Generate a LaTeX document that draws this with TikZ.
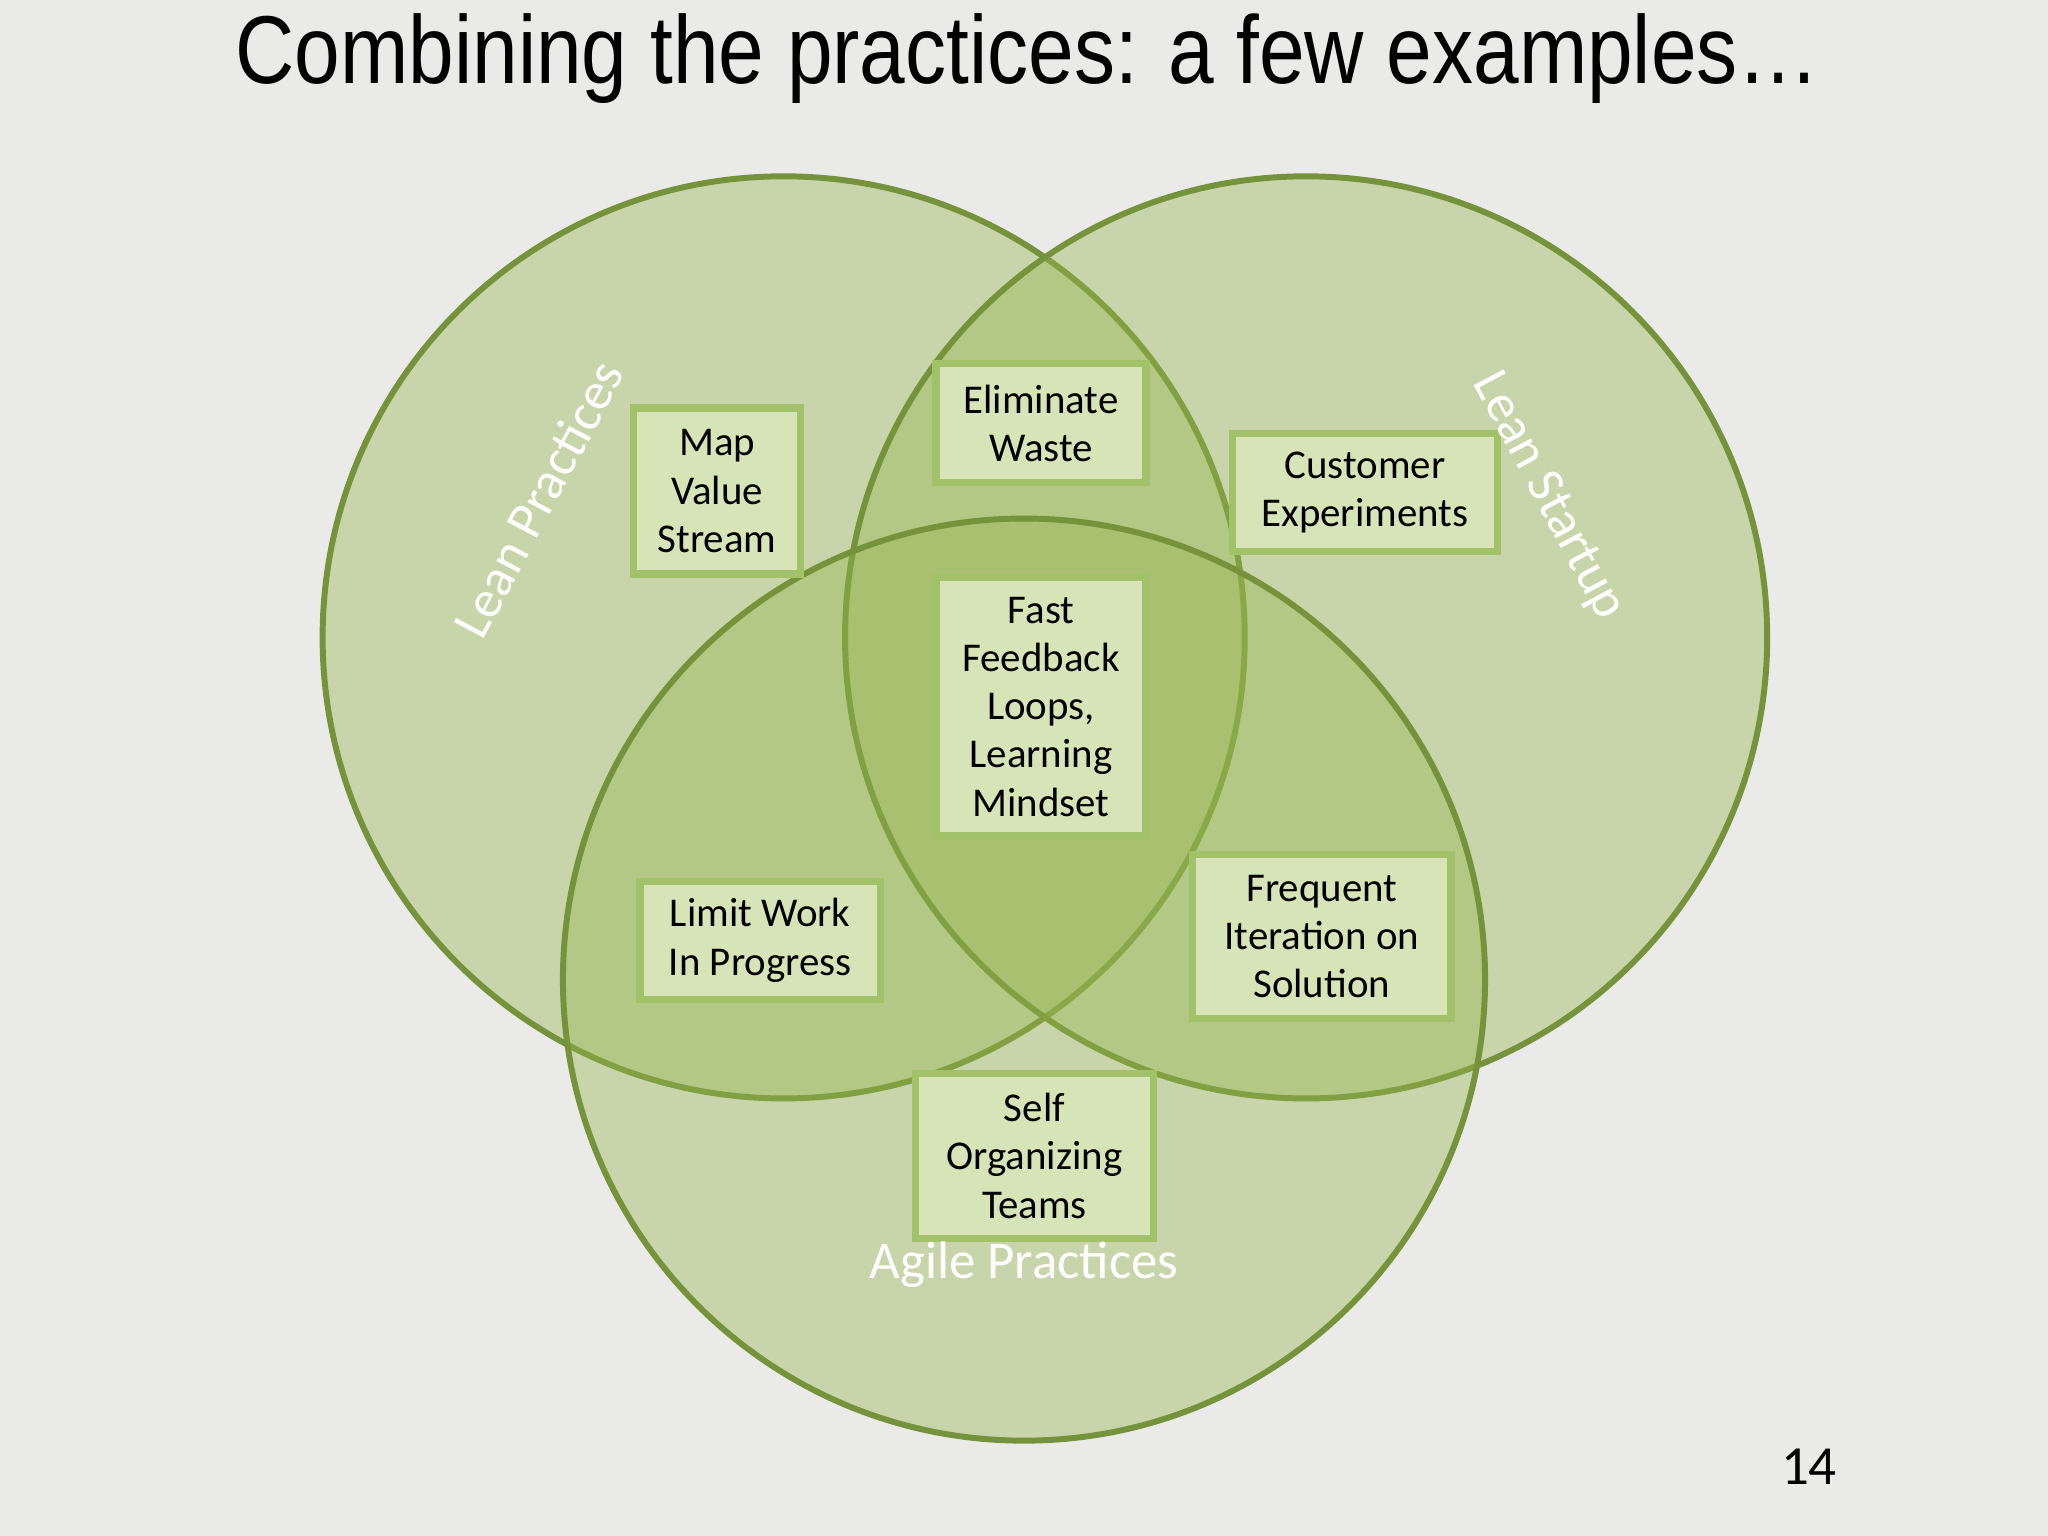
\documentclass[tikz,border=0pt]{standalone}
\usepackage{fontspec}
\setmainfont{Carlito}
\newfontfamily\titlefont{Liberation Sans}
\definecolor{bgc}{RGB}{234,234,233}
\definecolor{circfill}{RGB}{150,182,80}
\definecolor{circline}{RGB}{118,146,58}
\definecolor{boxfill}{RGB}{214,228,184}
\definecolor{boxline}{RGB}{163,193,104}
\tikzset{
  venn/.style={fill=circfill,fill opacity=0.4,draw=circline,draw opacity=1,line width=1.3pt},
  pbox/.style={draw=boxline,fill=boxfill,line width=1.6pt,align=center,inner sep=0pt,
    font=\fontsize{8.9}{10.5}\selectfont,text=black},
  setlabel/.style={text=white,font=\fontsize{11.5}{14}\selectfont}
}
\begin{document}
\begin{tikzpicture}[x=0.01cm,y=-0.01cm]
\fill[bgc] (0,0) rectangle (1568,1176);
\useasboundingbox (0,0) rectangle (1568,1176);
\node[font=\titlefont\fontsize{21}{24}\selectfont,xscale=0.85] (title) at (787,45) {Combining the practices: a few examples\ldots};
\path[venn] (600,488) circle (353);
\path[venn] (1000,488) circle (353);
\path[venn] (784,750) circle (353);
\node[pbox,minimum width=128*0.01cm,minimum height=127*0.01cm] (map) at (549,376) {Map\\Value\\Stream};
\node[pbox,minimum width=161*0.01cm,minimum height=91*0.01cm] (elim) at (797,324) {Eliminate\\Waste};
\node[pbox,minimum width=203*0.01cm,minimum height=90*0.01cm] (cust) at (1045,377) {Customer\\Experiments};
\node[pbox,minimum width=161*0.01cm,minimum height=198*0.01cm] (fast) at (797,541) {Fast\\Feedback\\Loops,\\Learning\\Mindset};
\node[pbox,minimum width=184*0.01cm,minimum height=90*0.01cm] (wip) at (582,720) {Limit Work\\In Progress};
\node[pbox,minimum width=198*0.01cm,minimum height=126*0.01cm] (freq) at (1012,717) {Frequent\\Iteration on\\Solution};
\node[pbox,minimum width=182*0.01cm,minimum height=126*0.01cm] (self) at (792,885) {Self\\Organizing\\Teams};
\node[setlabel,rotate=62] (lp) at (412,382) {Lean Practices};
\node[setlabel,rotate=-62] (ls) at (1185,380) {Lean Startup};
\node[setlabel] (ap) at (784,968) {Agile Practices};
\node[font=\fontsize{12}{14}\selectfont] (pg) at (1385,1123) {14};
\end{tikzpicture}
\end{document}
